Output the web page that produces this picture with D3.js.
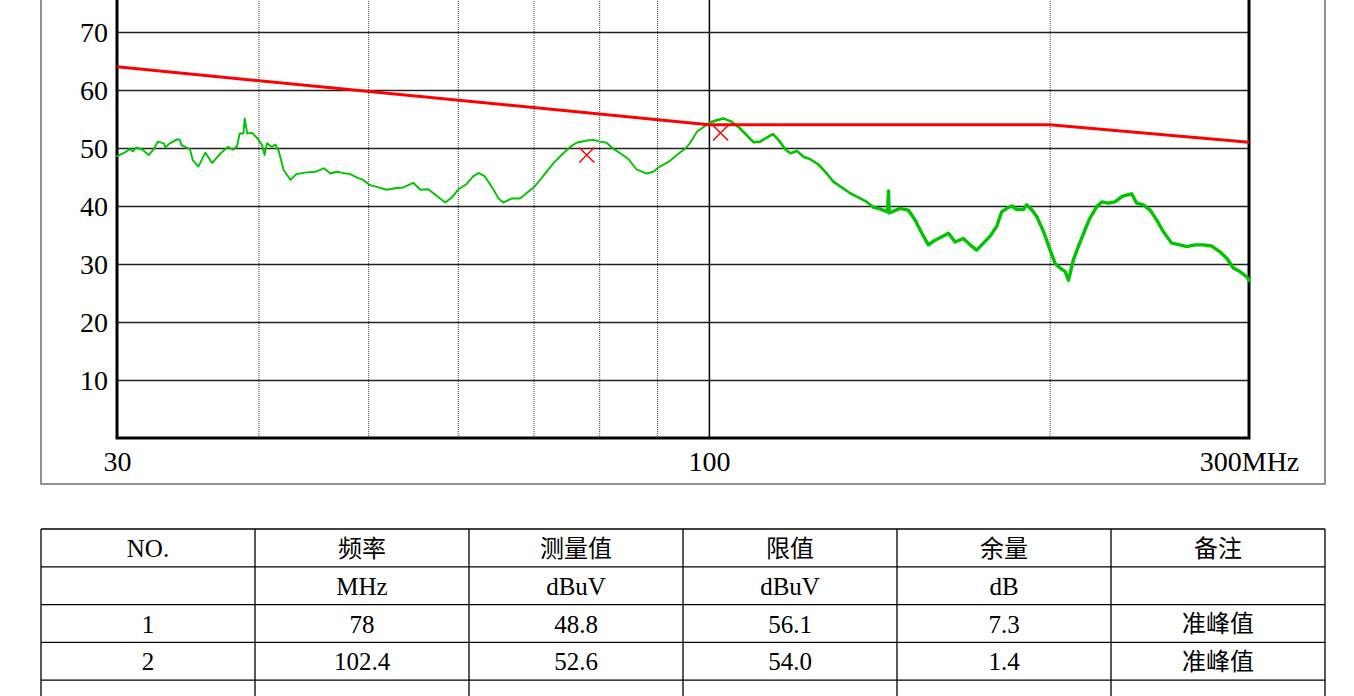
<!DOCTYPE html>
<html>
<head>
<meta charset="utf-8">
<script src="https://cdn.jsdelivr.net/npm/d3@7"></script>
<style>
body { margin: 0; background: #fff; }
svg { display: block; }
</style>
</head>
<body>
<div id="chart"></div>
<script>
// scan trace, [MHz, dBuV]
var scanTrace = [
  [30.0,48.6],[30.4,49.1],[30.8,49.8],[31.0,49.4],[31.2,50.1],[31.6,49.7],[32.0,48.8],[32.3,49.7],
  [32.6,51.1],[33.0,50.8],[33.1,50.1],[33.4,50.8],[33.9,51.5],[34.1,51.4],[34.2,50.5],[34.8,49.8],
  [35.0,47.9],[35.4,46.8],[35.9,49.2],[36.4,47.4],[37.0,49.0],[37.6,50.2],[38.0,49.7],[38.3,50.3],
  [38.5,52.5],[38.8,52.5],[38.9,55.1],[39.1,52.5],[39.5,52.6],[39.9,51.7],[40.3,50.5],[40.5,48.8],
  [40.7,50.8],[41.1,50.2],[41.4,50.6],[41.7,49.4],[42.1,46.2],[42.7,44.5],[43.2,45.5],[44.1,45.8],
  [44.9,45.9],[45.7,46.5],[46.3,45.6],[46.9,45.9],[47.5,45.7],[48.2,45.5],[49.0,44.8],[49.5,44.5],
  [50.2,43.6],[50.9,43.3],[51.9,42.8],[53.0,43.1],[53.7,43.2],[54.8,44.0],[55.6,42.8],[56.5,42.9],
  [57.7,41.5],[58.5,40.6],[59.3,41.5],[60.1,42.9],[61.1,43.8],[61.9,45.1],[62.6,45.7],[63.4,45.1],
  [64.3,43.3],[65.2,41.3],[65.8,40.6],[67.0,41.3],[68.1,41.3],[69.0,42.2],[70.2,43.4],[71.6,45.5],
  [72.9,47.4],[74.1,48.8],[75.4,50.2],[76.4,50.9],[78.0,51.3],[79.1,51.4],[80.1,51.1],[81.2,50.9],
  [82.3,49.9],[83.5,49.1],[84.9,48.1],[86.3,46.3],[88.1,45.6],[89.3,45.9],[90.5,46.8],[92.1,47.6],
  [93.7,48.8],[95.3,49.9],[96.2,50.8],[97.6,52.8],[98.9,53.6],[100.2,54.4],[101.6,54.8],[103.0,55.1],
  [104.8,54.5],[106.5,53.4],[108.0,52.2],[109.5,51.0],[111.0,51.1],[112.5,51.8],[113.9,52.4],[115.2,51.4],
  [116.8,49.8],[118.0,49.1],[119.6,49.5],[121.2,48.5],[122.8,48.1],[124.9,47.2],[126.7,45.9],[128.8,44.2],
  [131.0,43.2],[133.3,42.2],[135.5,41.5],[137.9,40.7],[139.7,39.8],[142.1,39.4],[143.8,39.0],[144.1,42.6],
  [144.3,38.8],[147.5,39.6],[150.0,39.3],[152.1,37.6],[154.2,35.3],[156.3,33.3],[158.4,34.1],[160.6,34.7],
  [162.8,35.3],[165.0,33.8],[167.8,34.4],[170.1,33.3],[172.4,32.4],[174.8,33.6],[177.2,34.8],[179.6,36.5],
  [181.4,39.0],[183.3,39.6],[185.2,40.0],[187.1,39.4],[189.6,39.4],[190.9,40.2],[192.9,39.3],[194.8,38.2],
  [197.5,35.6],[200.2,32.4],[202.2,30.1],[204.3,29.3],[206.4,28.7],[207.8,27.2],[209.9,30.7],[212.0,33.0],
  [214.9,35.9],[217.1,37.9],[220.1,39.9],[222.4,40.7],[225.3,40.5],[228.4,40.7],[231.6,41.6],[233.9,41.9],
  [236.3,42.1],[238.7,40.5],[242.0,40.2],[245.3,39.3],[248.6,37.6],[252.0,35.6],[256.3,33.6],[260.7,33.3],
  [264.3,33.0],[268.8,33.3],[273.4,33.3],[278.1,33.1],[282.8,32.1],[286.7,31.0],[290.6,29.3],[294.5,28.7],
  [298.6,27.8],[300.0,27.2]
];

// limit line
var limitFreq = [30, 100, 200, 300];
var limitLevel = [64, 54, 54, 51];

// axes
var yTicks = [10, 20, 30, 40, 50, 60, 70];
var xGrid = [40, 50, 60, 70, 80, 90, 100, 200];
var xLabels = [30, 100, 300];

// table
var tableHead = ["NO.", "频率", "测量值", "限值", "余量", "备注"];
var tableUnits = ["", "MHz", "dBuV", "dBuV", "dB", ""];
var peakNo = [1, 2];
var peakFreq = [78, 102.4];
var peakLevel = [48.8, 52.6];
var peakLimit = [56.1, 54.0];
var peakMargin = [7.3, 1.4];
var peakNote = ["准峰值", "准峰值"];

var W = 1354, H = 696;
var plot = { left: 117, right: 1249, top: -26, bottom: 438 };
var fontNum = "'Liberation Serif', 'Noto Sans CJK SC', serif";

// the trace gets fuzzier (noisier) towards high frequencies: [from, to, stroke width]
var traceBands = [[30, 100.2, 1.9], [100.2, 139.7, 2.6], [139.7, 300, 3.4]];

var x = d3.scaleLog().domain([30, 300]).range([plot.left, plot.right]);
var y = d3.scaleLinear().domain([0, 80]).range([plot.bottom, plot.top]);

var svg = d3.select("#chart").append("svg")
  .attr("width", W)
  .attr("height", H);

// outer box round the chart
svg.append("rect")
  .attr("x", 41).attr("y", -70)
  .attr("width", 1284).attr("height", 554)
  .attr("fill", "none")
  .attr("stroke", "#707070")
  .attr("stroke-width", 1.5);

// vertical grid
var gx = svg.append("g")
  .attr("transform", "translate(0," + plot.bottom + ")")
  .call(d3.axisBottom(x).tickValues(xGrid).tickSize(-(plot.bottom - plot.top)).tickFormat(""));
gx.select(".domain").remove();
gx.selectAll(".tick line")
  .attr("stroke", d => d === 100 ? "#000" : "#444")
  .attr("stroke-width", d => d === 100 ? 1.5 : 1)
  .attr("stroke-dasharray", d => d === 100 ? null : "1,1");

// horizontal grid + y labels
var gy = svg.append("g")
  .attr("transform", "translate(" + plot.left + ",0)")
  .call(d3.axisLeft(y).tickValues(yTicks).tickSize(-(plot.right - plot.left)).tickPadding(9));
gy.attr("font-family", fontNum);
gy.select(".domain").remove();
gy.selectAll(".tick line").attr("stroke", "#222").attr("stroke-width", 1.6);
gy.selectAll(".tick text").attr("font-size", 28).attr("fill", "#000").attr("dy", "0.34em");

// x labels
var gl = svg.append("g")
  .attr("transform", "translate(0," + plot.bottom + ")")
  .call(d3.axisBottom(x).tickValues(xLabels).tickSize(0).tickPadding(13)
    .tickFormat(d => d === 300 ? "300MHz" : d));
gl.attr("font-family", fontNum);
gl.select(".domain").remove();
gl.selectAll(".tick text").attr("font-size", 28).attr("fill", "#000");

// plot frame
svg.append("rect")
  .attr("x", plot.left).attr("y", plot.top)
  .attr("width", plot.right - plot.left).attr("height", plot.bottom - plot.top)
  .attr("fill", "none")
  .attr("stroke", "#000")
  .attr("stroke-width", 3);

// measured trace
var line = d3.line().x(d => x(d[0])).y(d => y(d[1]));
svg.selectAll(".trace")
  .data(traceBands)
  .enter().append("path")
  .attr("class", "trace")
  .attr("d", b => line(scanTrace.filter(d => d[0] >= b[0] && d[0] <= b[1])))
  .attr("fill", "none")
  .attr("stroke", "#00c400")
  .attr("stroke-width", b => b[2])
  .attr("stroke-linejoin", "round")
  .attr("stroke-linecap", "round");

// limit
svg.append("path")
  .datum(limitFreq.map((f, i) => [f, limitLevel[i]]))
  .attr("d", line)
  .attr("fill", "none")
  .attr("stroke", "#ff0000")
  .attr("stroke-width", 3);

// peak markers
var s = 7.5;
svg.selectAll(".peak")
  .data(peakFreq.map((f, i) => [f, peakLevel[i]]))
  .enter().append("path")
  .attr("class", "peak")
  .attr("d", d => {
    var cx = x(d[0]), cy = y(d[1]);
    return "M" + (cx - s) + "," + (cy - s) + "L" + (cx + s) + "," + (cy + s) +
      "M" + (cx - s) + "," + (cy + s) + "L" + (cx + s) + "," + (cy - s);
  })
  .attr("stroke", "#ff0000")
  .attr("stroke-width", 1.5)
  .attr("fill", "none");

// table
var rows = [tableHead, tableUnits];
peakNo.forEach((n, i) => {
  rows.push([String(n), String(peakFreq[i]), d3.format(".1f")(peakLevel[i]),
    d3.format(".1f")(peakLimit[i]), d3.format(".1f")(peakMargin[i]), peakNote[i]]);
});
rows.push(["", "", "", "", "", ""]);

var colX = d3.scaleBand().domain(d3.range(6)).range([41, 1325]);
var rowY = d3.scaleBand().domain(d3.range(rows.length)).range([529, 529 + 37.8 * rows.length]);

var tg = svg.append("g").attr("font-family", fontNum);

tg.selectAll(".hline")
  .data(d3.range(rows.length + 1))
  .enter().append("line")
  .attr("x1", 41).attr("x2", 1325)
  .attr("y1", d => 529 + d * rowY.bandwidth())
  .attr("y2", d => 529 + d * rowY.bandwidth())
  .attr("stroke", "#000").attr("stroke-width", 1.3);

tg.selectAll(".vline")
  .data(d3.range(7))
  .enter().append("line")
  .attr("x1", d => 41 + d * colX.bandwidth())
  .attr("x2", d => 41 + d * colX.bandwidth())
  .attr("y1", 529).attr("y2", 529 + rows.length * rowY.bandwidth())
  .attr("stroke", "#000").attr("stroke-width", 1.3);

rows.forEach((r, ri) => {
  tg.selectAll(".r" + ri)
    .data(r)
    .enter().append("text")
    .attr("x", (d, ci) => colX(ci) + colX.bandwidth() / 2)
    .attr("y", rowY(ri) + rowY.bandwidth() / 2)
    .attr("dy", "0.36em")
    .attr("text-anchor", "middle")
    .attr("font-size", d => /[\u4e00-\u9fff]/.test(d) ? 24 : 25)
    .attr("fill", "#000")
    .text(d => d);
});
</script>
</body>
</html>
